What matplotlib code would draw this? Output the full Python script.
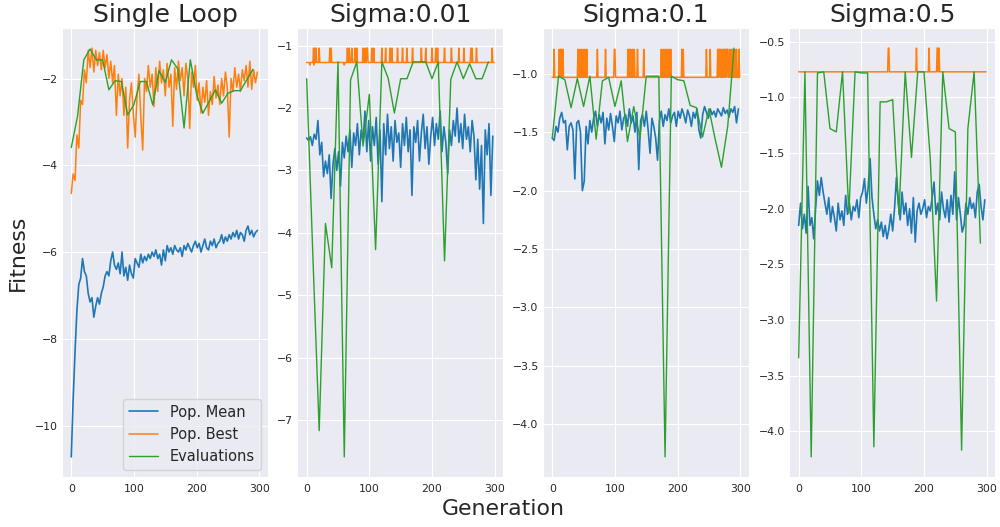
import numpy as np
import matplotlib
matplotlib.use("Agg")
import matplotlib.pyplot as plt
import seaborn as sns

# ---------------- data ----------------
titles = ["Single Loop", "Sigma:0.01", "Sigma:0.1", "Sigma:0.5"]
labels = ["Pop. Mean", "Pop. Best", "Evaluations"]

gen_mean = np.arange(0, 300, 3)      # generations of the sampled mean values
gen_all = np.arange(0, 300)          # all generations
gen_eval = np.arange(0, 300, 10)     # evaluation generations

# Single Loop
mean_single = [-10.72, -9.40, -8.30, -7.35, -6.75, -6.60, -6.15, -6.45, -6.55, -6.95,
               -7.15, -7.05, -7.50, -7.25, -7.05, -7.20, -6.95, -6.80, -6.55, -6.45,
               -6.55, -6.20, -6.00, -6.30, -6.40, -6.25, -6.50, -6.00, -6.55, -6.35,
               -6.65, -6.30, -6.50, -6.60, -6.15, -6.25, -6.35, -6.05, -6.25, -6.10,
               -6.20, -6.05, -6.15, -6.00, -6.10, -5.95, -6.15, -6.05, -6.30, -5.95,
               -6.20, -5.85, -6.00, -5.90, -6.05, -5.85, -5.95, -6.00, -5.90, -6.10,
               -5.85, -5.95, -5.80, -5.90, -6.00, -5.85, -5.75, -5.90, -5.80, -6.00,
               -5.85, -5.70, -5.90, -5.95, -5.75, -5.85, -5.70, -5.90, -5.80, -5.75,
               -5.60, -5.80, -5.65, -5.75, -5.60, -5.70, -5.55, -5.65, -5.50, -5.70,
               -5.55, -5.60, -5.75, -5.50, -5.40, -5.60, -5.50, -5.65, -5.55, -5.50]
best_single = [-4.65, -4.20, -4.35, -3.30, -3.60, -2.50, -2.60, -1.80, -2.10, -1.35,
               -1.75, -1.30, -1.85, -1.35, -1.70, -1.40, -1.80, -1.35, -1.75, -1.45,
               -2.00, -1.60, -2.10, -1.70, -2.85, -1.90, -2.40, -2.00, -2.85, -2.20,
               -3.60, -2.50, -2.10, -2.80, -3.35, -2.40, -1.90, -2.90, -3.65, -2.00,
               -2.30, -1.70, -2.20, -1.90, -2.65, -1.75, -2.30, -1.60, -2.10, -1.80,
               -2.40, -1.65, -2.20, -1.90, -3.10, -1.75, -2.25, -1.60, -2.05, -1.75,
               -2.40, -1.65, -2.00, -3.15, -1.85, -2.20, -1.70, -2.50, -2.10, -2.80,
               -2.20, -2.55, -2.05, -2.85, -2.30, -2.60, -1.95, -2.45, -2.15, -2.60,
               -2.00, -2.40, -1.85, -2.20, -3.35, -2.00, -2.30, -1.75, -2.20, -1.90,
               -2.30, -1.80, -2.05, -1.70, -2.20, -1.60, -2.25, -1.80, -2.10, -1.85]
eval_single = [-3.59, -2.87, -1.57, -1.32, -1.57, -1.57, -2.26, -2.05, -2.07, -2.84,
               -2.60, -2.07, -2.07, -2.61, -1.82, -2.09, -1.57, -1.78, -3.14, -1.57,
               -2.36, -2.80, -2.53, -2.26, -2.57, -2.34, -2.28, -2.28, -2.03, -1.79]

# Sigma 0.01
mean_s001 = [-2.48, -2.52, -2.46, -2.60, -2.42, -2.50, -2.20, -2.75, -2.55, -3.10,
             -2.85, -3.05, -2.75, -3.45, -2.90, -2.65, -3.00, -2.70, -3.25, -2.55,
             -2.80, -2.45, -2.70, -2.35, -2.95, -2.40, -2.60, -2.25, -2.75, -2.35,
             -2.55, -2.05, -2.70, -2.20, -2.85, -2.30, -2.60, -2.15, -2.90, -2.35,
             -3.50, -2.25, -2.75, -2.10, -2.65, -2.30, -2.85, -2.20, -2.55, -2.40,
             -2.95, -2.25, -2.60, -2.15, -2.70, -2.35, -3.40, -2.30, -2.55, -2.20,
             -2.85, -2.40, -2.10, -2.65, -2.30, -2.90, -2.45, -2.15, -2.60, -2.25,
             -2.50, -2.05, -2.70, -2.30, -2.55, -3.05, -2.35, -2.60, -2.20, -2.45,
             -2.00, -2.55, -2.25, -2.65, -2.10, -2.50, -2.30, -2.70, -2.20, -2.45,
             -3.15, -2.50, -3.30, -2.60, -3.85, -2.35, -2.75, -2.25, -3.40, -2.45]
best_base_s001 = -1.27
best_peak_s001 = -1.04
best_dip_s001 = -1.31
best_spikes_s001 = [11, 13, 15, 20, 37, 39, 65, 68, 72, 77, 80, 90, 93, 96, 97, 104, 107,
                    120, 126, 133, 136, 145, 153, 160, 169, 183, 190, 200, 206, 209, 220,
                    231, 243, 251, 262, 264, 271, 296]
best_dips_s001 = [5, 12, 60, 210]
eval_s001 = [-1.53, -4.40, -7.17, -3.85, -4.56, -1.26, -7.59, -1.55, -1.26, -2.61,
             -1.78, -4.27, -1.26, -1.52, -2.08, -1.53, -1.53, -1.26, -1.26, -1.26,
             -1.53, -1.26, -4.45, -1.54, -1.26, -1.53, -1.29, -1.53, -1.53, -1.26]

# Sigma 0.1
mean_s01 = [-1.55, -1.57, -1.45, -1.50, -1.38, -1.33, -1.42, -1.40, -1.65, -1.45,
            -1.42, -1.48, -1.90, -1.42, -1.40, -1.50, -2.00, -1.92, -1.45, -1.60,
            -1.40, -1.50, -1.38, -1.32, -1.45, -1.35, -1.42, -1.33, -1.60, -1.38,
            -1.48, -1.34, -1.45, -1.58, -1.36, -1.42, -1.32, -1.48, -1.38, -1.35,
            -1.45, -1.30, -1.42, -1.36, -1.50, -1.33, -1.82, -1.40, -1.35, -1.45,
            -1.32, -1.48, -1.68, -1.38, -1.45, -1.55, -1.74, -1.40, -1.32, -1.45,
            -1.35, -1.40, -1.30, -1.42, -1.36, -1.33, -1.45, -1.32, -1.38, -1.30,
            -1.35, -1.42, -1.31, -1.36, -1.45, -1.33, -1.38, -1.30, -1.48, -1.55,
            -1.35, -1.28, -1.33, -1.38, -1.30, -1.35, -1.32, -1.37, -1.30, -1.33,
            -1.36, -1.29, -1.34, -1.31, -1.37, -1.30, -1.33, -1.28, -1.42, -1.30]
best_base_s01 = -1.03
best_peak_s01 = -0.79
best_spikes_s01 = [3, 11, 13, 15, 17, 41, 43, 46, 49, 52, 55, 72, 85, 99, 100, 121, 123,
                   125, 128, 131, 136, 146, 174, 177, 180, 183, 186, 189, 207, 209, 246,
                   252, 264, 266, 267, 269, 272, 274, 275, 277, 279, 280, 283, 286, 288,
                   291, 294, 298]
eval_s01 = [-1.55, -1.02, -1.05, -1.29, -1.04, -1.28, -1.02, -1.56, -1.06, -1.03,
            -1.28, -1.06, -1.58, -1.28, -1.55, -1.02, -1.02, -1.02, -4.28, -1.02,
            -1.05, -1.06, -1.27, -1.29, -1.54, -1.30, -1.56, -1.80, -1.45, -0.78]

# Sigma 0.5
mean_s05 = [-2.15, -1.95, -2.18, -2.05, -2.22, -1.80, -2.15, -2.08, -2.27, -2.00,
            -1.75, -1.88, -1.72, -1.85, -1.95, -2.05, -1.90, -2.12, -1.98, -2.08,
            -2.20, -1.95, -2.10, -2.02, -2.15, -1.88, -2.05, -1.95, -2.10, -1.98,
            -2.02, -1.92, -2.08, -1.90, -1.85, -1.73, -1.95, -1.80, -1.55, -1.90,
            -2.05, -2.18, -2.10, -2.20, -2.12, -2.25, -2.15, -2.27, -2.18, -2.05,
            -2.20, -2.00, -1.72, -1.95, -2.10, -1.85, -2.05, -1.95, -2.15, -2.00,
            -2.22, -1.90, -2.30, -2.02, -1.95, -2.05, -2.00, -1.92, -2.08, -1.98,
            -2.02, -1.90, -1.76, -2.05, -1.95, -2.10, -1.85, -2.00, -2.08, -1.92,
            -2.12, -1.88, -2.05, -1.67, -2.10, -1.90, -2.05, -2.21, -2.15, -1.95,
            -2.05, -1.90, -2.00, -1.95, -2.08, -1.85, -1.78, -1.98, -2.10, -1.92]
best_base_s05 = -0.77
best_peak_s05 = -0.557
best_spikes_s05 = [143, 144, 188, 208, 221, 222, 224]
eval_s05 = [-3.34, -0.77, -4.23, -0.78, -0.77, -1.28, -1.31, -0.77, -2.04, -0.77,
            -0.78, -0.78, -4.14, -1.04, -1.04, -1.02, -2.05, -0.77, -1.54, -0.77,
            -0.77, -1.55, -2.83, -0.77, -1.28, -1.31, -4.17, -1.28, -0.77, -2.31]


def spiky(base, peak, spikes, dip=None, dips=()):
    arr = np.full(len(gen_all), base, dtype=float)
    arr[list(spikes)] = peak
    if dip is not None:
        arr[list(dips)] = dip
    return arr


best_s001 = spiky(best_base_s001, best_peak_s001, best_spikes_s001, best_dip_s001, best_dips_s001)
best_s01 = spiky(best_base_s01, best_peak_s01, best_spikes_s01)
best_s05 = spiky(best_base_s05, best_peak_s05, best_spikes_s05)

panels = [
    (gen_mean, mean_single, gen_mean, best_single, eval_single),
    (gen_mean, mean_s001, gen_all, best_s001, eval_s001),
    (gen_mean, mean_s01, gen_all, best_s01, eval_s01),
    (gen_mean, mean_s05, gen_all, best_s05, eval_s05),
]

# ---------------- plot ----------------
sns.set_style("darkgrid")
plt.rcParams['font.family'] = ['DejaVu Sans']

W, H = 1000, 527
fig = plt.figure(figsize=(W / 100, H / 100), dpi=100)

lefts = [61.9, 297.3, 542.9, 789.3]
ax_w = 206.1
top_px, bot_px = 27.7, 477.3

colors = ["#1f77b4", "#ff7f0e", "#2ca02c"]
for i, (xm, ym, xb, yb, ye) in enumerate(panels):
    ax = fig.add_axes([lefts[i] / W, 1 - bot_px / H, ax_w / W, (bot_px - top_px) / H])
    ax.plot(xm, ym, color=colors[0], lw=1.2, label=labels[0])
    ax.plot(xb, yb, color=colors[1], lw=1.1, label=labels[1])
    ax.plot(gen_eval, ye, color=colors[2], lw=1.0, label=labels[2])
    ax.set_xlim(-14.95, 313.95)
    ax.set_xticks([0, 100, 200, 300])
    ax.set_title(titles[i], fontsize=18, color="#262626", pad=4)
    ax.tick_params(axis='both', labelsize=7.8, colors="#262626", length=0)
    ax.tick_params(axis='x', pad=4.5)
    ax.tick_params(axis='y', pad=3.0)
    if i == 0:
        ax.legend(loc='lower right', fontsize=10.5)

fig.text(0.503, 0.035, "Generation", fontsize=15.8, ha='center', va='center', color="#262626")
fig.text(0.0175, 0.52, "Fitness", fontsize=15.8, ha='center', va='center', rotation=90, color="#262626")

fig.savefig("out.png", dpi=100)
